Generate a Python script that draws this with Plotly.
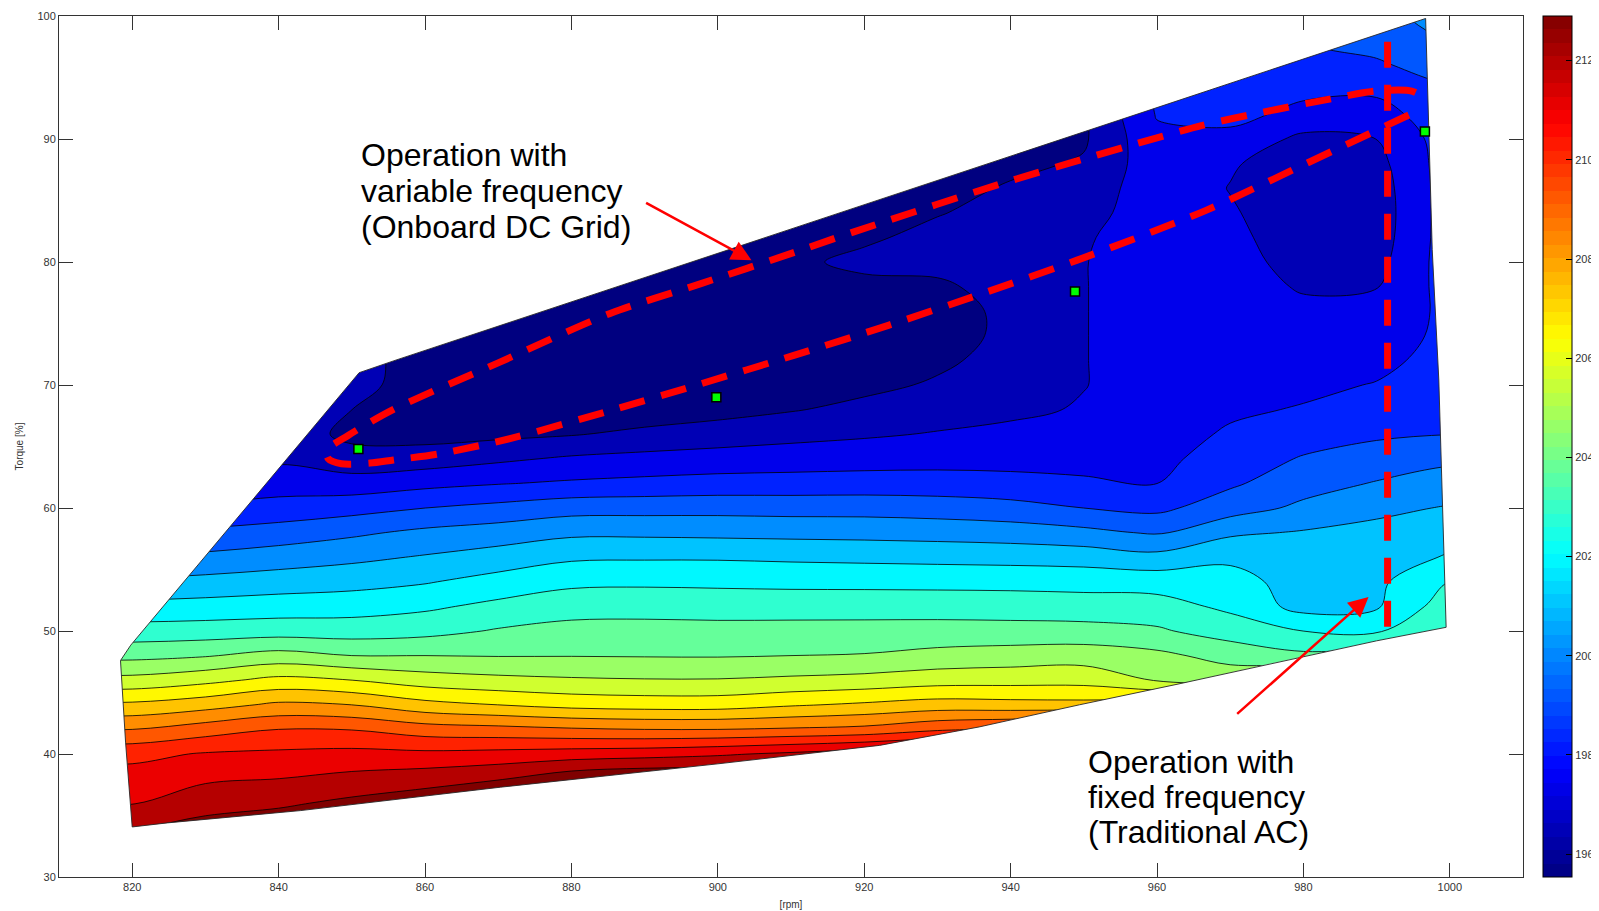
import plotly.graph_objects as go

# ---------------- data ----------------
rpm = [810, 820, 830, 840, 850, 860, 870, 880, 890, 900, 910, 920, 930, 940, 950, 960, 970, 980, 990, 1000, 1010]
torque = [32, 34, 36, 38, 40, 42, 44, 46, 48, 50, 52, 54, 56, 58, 60, 62, 64, 66, 68, 70,
          72, 74, 76, 78, 80, 82, 84, 86, 88, 90, 92, 94, 96, 98, 100]

sfoc = [
    # T=32
    [212.9, 212.9, 212.9, 212.9, 212.9, 212.9, 212.9, 212.9, 212.9, 212.9, 212.9, 212.9, 212.9, 212.9, 212.9, 212.9, 212.9, 212.9, 212.9, 212.9, 212.9],
    # T=34
    [211.99, 211.99, 212.36, 212.63, 212.9, 212.9, 212.9, 212.9, 212.9, 212.9, 212.9, 212.9, 212.9, 212.9, 212.9, 212.9, 212.9, 212.9, 212.9, 212.9, 212.9],
    # T=36
    [211.12, 211.12, 211.69, 211.88, 212.24, 212.61, 212.9, 212.9, 212.9, 212.9, 212.9, 212.9, 212.9, 212.9, 212.9, 212.9, 212.9, 212.9, 212.9, 212.9, 212.9],
    # T=38
    [210.67, 210.67, 211.03, 211.16, 211.41, 211.64, 211.96, 212.61, 212.9, 212.9, 212.9, 212.9, 212.9, 212.9, 212.9, 212.9, 212.9, 212.9, 212.9, 212.9, 212.9],
    # T=40
    [210.05, 210.05, 210.37, 210.47, 210.56, 210.50, 210.59, 210.73, 210.84, 211.04, 211.33, 211.68, 212.03, 212.46, 212.9, 212.9, 212.9, 212.9, 212.9, 212.9, 212.9],
    # T=42
    [208.56, 208.56, 209.03, 209.43, 209.4, 208.99, 208.85, 208.67, 208.56, 208.56, 208.67, 208.81, 209.30, 209.57, 210.01, 210.30, 210.5, 211.0, 211.0, 210.0, 210.0],
    # T=44
    [207.0, 207.0, 207.34, 207.86, 207.69, 207.11, 206.82, 206.54, 206.44, 206.44, 206.73, 206.96, 207.21, 207.14, 207.11, 207.34, 207.7, 208.0, 208.5, 207.5, 207.5],
    # T=46
    [205.37, 205.37, 205.72, 206.20, 205.96, 205.52, 205.32, 205.20, 205.14, 205.14, 205.26, 205.38, 205.59, 205.63, 205.64, 205.03, 204.76, 205.5, 206.0, 205.0, 205.0],
    # T=48
    [203.97, 203.97, 204.15, 204.54, 204.22, 204.22, 204.18, 204.19, 204.17, 204.16, 204.22, 204.27, 204.48, 204.61, 204.70, 204.43, 203.90, 203.53, 203.7, 203.5, 203.5],
    # T=50
    [202.84, 202.84, 202.89, 202.96, 202.93, 203.08, 203.43, 203.63, 203.64, 203.62, 203.64, 203.65, 203.68, 203.67, 203.64, 203.47, 202.96, 202.48, 202.42, 202.9, 202.9],
    # T=52
    [201.86, 201.86, 201.94, 202.05, 202.12, 202.33, 202.70, 203.0, 203.04, 203.0, 202.99, 202.99, 202.97, 202.93, 202.88, 202.83, 202.30, 201.3, 201.5, 203.0, 203.0],
    # T=54
    [200.9, 200.9, 201.02, 201.18, 201.32, 201.55, 201.94, 202.29, 202.33, 202.30, 202.26, 202.25, 202.24, 202.23, 202.18, 202.12, 201.92, 201.27, 201.43, 202.5, 202.5],
    # T=56
    [199.88, 199.88, 200.07, 200.31, 200.55, 200.82, 201.12, 201.48, 201.52, 201.52, 201.46, 201.41, 201.36, 201.31, 201.24, 201.02, 201.46, 201.04, 201.18, 201.7, 201.7],
    # T=58
    [199.01, 199.01, 199.18, 199.40, 199.72, 200.07, 200.29, 200.57, 200.57, 200.53, 200.49, 200.46, 200.40, 200.31, 200.11, 199.77, 200.60, 200.82, 200.94, 201.2, 201.2],
    # T=60
    [198.14, 198.14, 198.28, 198.46, 198.69, 199.01, 199.26, 199.54, 199.57, 199.59, 199.55, 199.55, 199.47, 199.32, 199.01, 198.81, 199.48, 200.07, 200.59, 200.8, 200.8],
    # T=62
    [197.42, 197.42, 197.48, 197.76, 197.65, 197.90, 198.10, 198.26, 198.37, 198.47, 198.50, 198.53, 198.51, 198.40, 198.25, 198.14, 198.88, 199.52, 199.94, 200.3, 200.3],
    # T=64
    [196.74, 196.74, 196.76, 197.13, 196.73, 196.82, 197.12, 197.40, 197.54, 197.64, 197.71, 197.78, 197.84, 197.87, 197.9, 197.9, 198.57, 199.08, 199.37, 199.7, 199.7],
    # T=66
    [196.7, 196.7, 196.7, 196.9, 196.2, 196.1, 196.2, 196.35, 196.61, 196.82, 197.02, 197.17, 197.33, 197.48, 197.6, 197.75, 198.26, 198.64, 198.89, 199.0, 199.0],
    # T=68
    [196.7, 196.7, 196.7, 196.9, 196.41, 195.9, 195.8, 195.8, 195.9, 196.1, 196.35, 196.63, 196.91, 197.1, 197.35, 197.7, 198.0, 198.21, 198.54, 198.8, 198.8],
    # T=70
    [196.7, 196.7, 196.7, 196.9, 196.8, 195.85, 195.7, 195.65, 195.6, 195.7, 195.9, 196.2, 196.51, 196.9, 197.25, 197.65, 197.85, 197.95, 198.19, 198.6, 198.6],
    # T=72
    [196.7, 196.7, 196.7, 196.9, 196.9, 195.85, 195.7, 195.6, 195.55, 195.6, 195.7, 195.9, 196.25, 196.7, 197.25, 197.65, 197.75, 197.75, 197.9, 198.5, 198.5],
    # T=74
    [196.7, 196.7, 196.7, 196.9, 196.9, 195.85, 195.75, 195.6, 195.55, 195.55, 195.65, 195.8, 196.15, 196.55, 197.25, 197.65, 197.7, 197.6, 197.65, 198.4, 198.4],
    # T=76
    [196.7, 196.7, 196.7, 196.9, 196.9, 195.85, 195.8, 195.7, 195.6, 195.6, 195.7, 195.9, 196.15, 196.55, 197.25, 197.65, 197.65, 197.45, 197.45, 198.4, 198.4],
    # T=78
    [196.7, 196.7, 196.7, 196.9, 196.9, 195.85, 195.8, 195.8, 195.7, 195.7, 195.9, 196.15, 196.3, 196.65, 197.25, 197.65, 197.6, 197.2, 197.25, 198.5, 198.5],
    # T=80
    [196.7, 196.7, 196.7, 196.9, 196.9, 195.85, 195.8, 195.8, 195.8, 195.8, 196.2, 196.65, 196.6, 196.8, 197.25, 197.65, 197.55, 197.0, 197.0, 198.6, 198.6],
    # T=82
    [196.7, 196.7, 196.7, 196.9, 196.9, 195.85, 195.8, 195.8, 195.8, 195.9, 196.1, 196.25, 196.7, 196.85, 197.2, 197.65, 197.45, 196.9, 196.85, 198.6, 198.6],
    # T=84
    [196.7, 196.7, 196.7, 196.9, 196.9, 195.85, 195.8, 195.8, 195.8, 195.9, 196.0, 196.1, 196.35, 196.75, 197.0, 197.7, 197.35, 196.85, 196.8, 198.6, 198.6],
    # T=86
    [196.7, 196.7, 196.7, 196.9, 196.9, 195.85, 195.8, 195.8, 195.8, 195.9, 196.0, 196.0, 196.1, 196.5, 196.8, 197.75, 197.25, 196.85, 196.85, 198.6, 198.6],
    # T=88
    [196.7, 196.7, 196.7, 196.9, 196.9, 195.85, 195.8, 195.8, 195.8, 195.9, 196.0, 196.0, 196.0, 196.2, 196.5, 197.8, 197.35, 196.9, 197.0, 198.6, 198.6],
    # T=90
    [196.7, 196.7, 196.7, 196.9, 196.9, 195.85, 195.8, 195.8, 195.8, 195.9, 196.0, 196.0, 196.0, 196.1, 196.3, 197.95, 197.95, 197.05, 197.28, 198.6, 198.6],
    # T=92
    [196.7, 196.7, 196.7, 196.9, 196.9, 195.85, 195.8, 195.8, 195.8, 195.9, 196.0, 196.0, 196.0, 196.1, 196.3, 198.2, 198.35, 197.95, 197.8, 198.7, 198.7],
    # T=94
    [196.7, 196.7, 196.7, 196.9, 196.9, 195.85, 195.8, 195.8, 195.8, 195.9, 196.0, 196.0, 196.0, 196.1, 196.3, 198.3, 198.5, 198.3, 198.3, 198.9, 198.9],
    # T=96
    [196.7, 196.7, 196.7, 196.9, 196.9, 195.85, 195.8, 195.8, 195.8, 195.9, 196.0, 196.0, 196.0, 196.1, 196.3, 198.3, 198.7, 198.7, 198.9, 199.4, 199.4],
    # T=98
    [196.7, 196.7, 196.7, 196.9, 196.9, 195.85, 195.8, 195.8, 195.8, 195.9, 196.0, 196.0, 196.0, 196.1, 196.3, 198.3, 198.7, 199.0, 199.3, 199.9, 199.9],
    # T=100
    [196.7, 196.7, 196.7, 196.9, 196.9, 195.85, 195.8, 195.8, 195.8, 195.9, 196.0, 196.0, 196.0, 196.1, 196.3, 198.3, 198.7, 199.0, 199.6, 200.3, 200.3],
]

# boundary of the measured operating area
boundary_rpm = [820.0, 824.8, 843.0, 870.3, 900.0, 922.1, 935.7, 949.4, 963.0, 976.7, 990.0, 999.5,
                998.5, 997.6, 996.7, 855.9, 851.0, 819.8, 818.4, 819.1, 820.0]
boundary_torque = [34.07, 34.4, 35.4, 37.3, 39.2, 40.7, 42.2, 44.0, 45.7, 47.5, 49.2, 50.3,
                   70.4, 81.0, 99.8, 72.0, 71.0, 48.85, 47.6, 40.9, 34.07]

# dashed operating curves
variable_rpm = [994.4, 980.0, 966.7, 949.1, 936.2, 923.4, 910.5, 897.1, 885.5, 872.0, 861.9, 855.7, 852.5,
                848.6, 846.8, 846.6, 849.5, 855.5, 870.0, 885.3, 897.8, 910.7, 917.3, 940.0, 966.2,
                976.3, 983.2, 989.9, 994.8, 996.7]
variable_torque = [91.95, 87.9, 84.2, 80.15, 77.45, 74.87, 72.43, 69.99, 67.95, 65.7, 64.4, 63.9, 63.65,
                   63.6, 64.0, 64.7, 65.9, 67.96, 71.8, 75.82, 78.26, 80.83, 82.19, 86.6, 91.1,
                   92.4, 93.2, 93.9, 93.9, 93.3]
fixed_rpm = [991.5, 991.5]
fixed_torque = [97.9, 50.2]

# measured points (green squares)
point_rpm = [850.9, 899.8, 948.8, 996.6]
point_torque = [64.8, 69.0, 77.6, 90.6]

# colour axis
cb_min, cb_max = 195.54, 212.9
n_bands = 20
cb_ticks = [196, 198, 200, 202, 204, 206, 208, 210, 212]

# annotation texts (one entry per line) and arrows (head, tail)
lines_variable = ["Operation with", "variable frequency", "(Onboard DC Grid)"]
lines_fixed = ["Operation with", "fixed frequency", "(Traditional AC)"]
arrow_variable = [(904.6, 80.15), (890.0, 84.87)]
arrow_fixed = [(988.9, 52.77), (970.75, 43.15)]

# ---------------- styling helpers ----------------
FONT = "Liberation Sans, Arial, Helvetica, sans-serif"


def jet(t):
    def seg(x):
        return max(0.0, min(1.0, x))
    r = seg(1.5 - abs(4 * t - 3))
    g = seg(1.5 - abs(4 * t - 2))
    b = seg(1.5 - abs(4 * t - 1))
    return "rgb(%d,%d,%d)" % (round(r * 255), round(g * 255), round(b * 255))


jet_scale = [[0.0, "rgb(0,0,128)"], [0.125, "rgb(0,0,255)"], [0.375, "rgb(0,255,255)"],
             [0.625, "rgb(255,255,0)"], [0.875, "rgb(255,0,0)"], [1.0, "rgb(128,0,0)"]]

bar_scale = []
for i in range(64):
    c = jet((i + 0.5) / 64.0)
    bar_scale.append([i / 64.0, c])
    bar_scale.append([(i + 1) / 64.0, c])

step = (cb_max - cb_min) / n_bands

fig = go.Figure()

fig.add_trace(go.Contour(
    x=rpm, y=torque, z=sfoc,
    colorscale=jet_scale,
    zauto=False, zmin=cb_min + step / 2, zmax=cb_max + step / 2,
    contours=dict(start=cb_min + step, end=cb_max - step + 1e-6, size=step, coloring="fill", showlines=True),
    line=dict(color="black", width=0.8, smoothing=1.0),
    showscale=False, hoverinfo="skip",
))

# white mask outside the operating area (rectangle with polygon hole)
rect_x = [800, 1020, 1020, 800, 800]
rect_y = [20, 20, 110, 110, 20]
mask_x = rect_x + boundary_rpm[::-1] + [800]
mask_y = rect_y + boundary_torque[::-1] + [20]
fig.add_trace(go.Scatter(x=mask_x, y=mask_y, mode="lines", fill="toself", fillcolor="white",
                         line=dict(width=0, color="white"), hoverinfo="skip", showlegend=False))
fig.add_trace(go.Scatter(x=boundary_rpm, y=boundary_torque, mode="lines",
                         line=dict(color="rgba(40,40,40,0.9)", width=1), hoverinfo="skip", showlegend=False))

# dashed curves
fig.add_trace(go.Scatter(x=variable_rpm, y=variable_torque, mode="lines",
                         line=dict(color="red", width=7, dash="26px,17px", shape="spline", smoothing=0.8),
                         hoverinfo="skip", showlegend=False))
fig.add_trace(go.Scatter(x=fixed_rpm, y=fixed_torque, mode="lines",
                         line=dict(color="red", width=7, dash="26px,17px"),
                         hoverinfo="skip", showlegend=False))

# green measured points
fig.add_trace(go.Scatter(x=point_rpm, y=point_torque, mode="markers",
                         marker=dict(symbol="square", size=9, color="#00ff00", line=dict(color="black", width=1.5)),
                         hoverinfo="skip", showlegend=False))

# colour bar helper (kept outside visible axis range)
fig.add_trace(go.Heatmap(
    z=[[cb_min, cb_max]], x=[700, 701], y=[0],
    colorscale=bar_scale, zmin=cb_min, zmax=cb_max, hoverinfo="skip",
    colorbar=dict(x=1.0137, xanchor="left", y=0.5, yanchor="middle", len=1.0, lenmode="fraction",
                  thickness=29, thicknessmode="pixels", xpad=0, ypad=0,
                  outlinewidth=1, outlinecolor="black",
                  tickmode="array", tickvals=cb_ticks, ticks="inside", ticklen=6, tickcolor="black",
                  tickfont=dict(family=FONT, size=11, color="#333")),
))

for head, tail in [arrow_variable, arrow_fixed]:
    fig.add_annotation(x=head[0], y=head[1], ax=tail[0], ay=tail[1], xref="x", yref="y",
                       axref="x", ayref="y", showarrow=True, arrowhead=2, arrowsize=1.6,
                       arrowwidth=2.5, arrowcolor="red", text="")

# text blocks: left position and per-line vertical centres (paper units)
block_specs = [
    (lines_variable, 0.2049, [0.8385, 0.7970, 0.7555]),
    (lines_fixed, 0.7015, [0.1335, 0.0933, 0.0518]),
]
for lines, xpos, ys in block_specs:
    for txt, ypos in zip(lines, ys):
        fig.add_annotation(x=xpos, y=ypos, xref="paper", yref="paper", xanchor="left", yanchor="middle",
                           text=txt, showarrow=False, align="left",
                           font=dict(family=FONT, size=32, color="black"))

axis_common = dict(showline=True, linecolor="#333", linewidth=1, mirror="ticks", ticks="inside",
                   ticklen=14, tickcolor="#333", showgrid=False, zeroline=False, automargin=False,
                   tickfont=dict(family=FONT, size=11, color="#333"))

# page body adds an 8 px offset, margins below compensate so the plot area lands at (59,16)-(1523,877)
fig.update_layout(
    width=1591, height=911,
    margin=dict(l=51, r=76, t=8, b=42, autoexpand=False),
    paper_bgcolor="white", plot_bgcolor="white",
    showlegend=False,
    xaxis=dict(range=[810, 1010], tickmode="array", tickvals=list(range(820, 1001, 20)),
               title=dict(text="[rpm]", font=dict(family=FONT, size=10, color="#333"), standoff=8),
               **axis_common),
    yaxis=dict(range=[30, 100], tickmode="array", tickvals=list(range(30, 101, 10)),
               title=dict(text="Torque [%]", font=dict(family=FONT, size=10, color="#333"), standoff=11),
               **axis_common),
)

fig.write_html("out.html")
